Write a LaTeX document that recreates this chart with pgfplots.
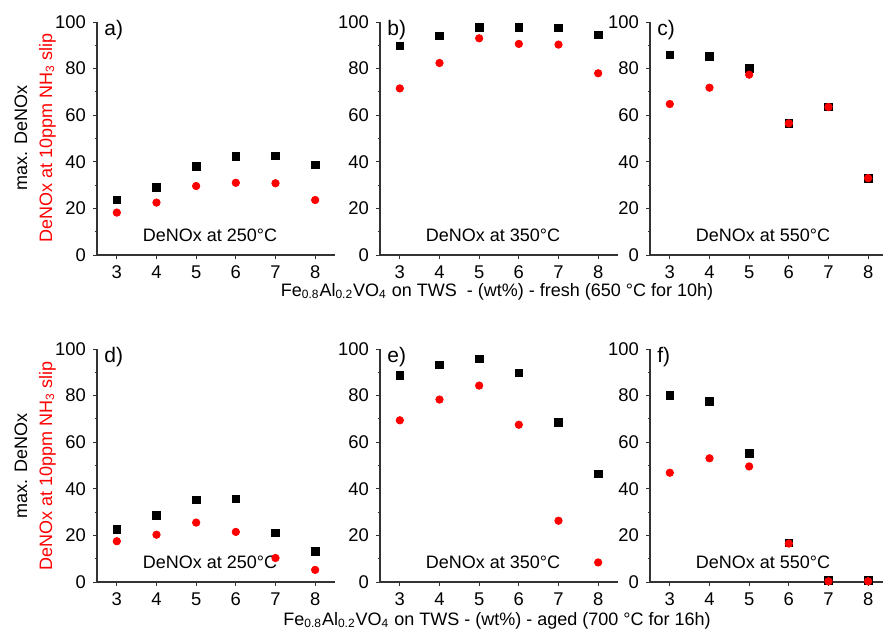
\documentclass[border=0pt]{standalone}
\usepackage{fontspec}
\setmainfont{Liberation Sans}
\usepackage{pgfplots}
\pgfplotsset{compat=1.18}

\pgfplotsset{
  panel/.style={
    scale only axis, width=119pt, height=116.5pt,
    anchor=south west, clip=false,
    xmin=2.5, xmax=8.5, ymin=0, ymax=100,
    axis x line*=bottom, axis y line*=left,
    xtick={3,...,8}, ytick={0,20,...,100}, minor y tick num=1,
    tick align=outside, major tick length=2pt, minor tick length=1.2pt,
    tick style={black!80, line width=0.5pt},
    axis line style={black!80, line width=0.6pt},
    ticklabel style={font=\fontsize{9.2}{10}\selectfont},
    /pgf/number format/assume math mode=true,
  },
  sq/.style={only marks, mark=square*, mark size=1.9pt, black},
  ci/.style={only marks, mark=*, mark size=1.85pt, red},
}
\newcommand{\plab}[1]{\node[anchor=north west, inner sep=0pt, font=\fontsize{10.5}{11}\selectfont]
  at (rel axis cs:0,1) [xshift=3.5pt, yshift=1pt] {#1};}
\newcommand{\tlab}[1]{\node[font=\fontsize{9}{10}\selectfont] at (axis cs:5.35,8.5) {DeNOx at #1°C};}

\begin{document}
\begin{tikzpicture}
\useasboundingbox (0,0) rectangle (441.5pt,317pt);

% ---- fresh ----
\begin{axis}[panel, at={(48.5pt,189.5pt)}]
\addplot[sq] coordinates {(3,23.6) (4,29.0) (5,37.9) (6,42.2) (7,42.5) (8,38.6)};
\addplot[ci] coordinates {(3,18.2) (4,22.5) (5,29.6) (6,31.0) (7,30.8) (8,23.6)};
\plab{a)}
\tlab{250}
\end{axis}

\begin{axis}[panel, at={(190pt,189.5pt)}]
\addplot[sq] coordinates {(3,89.7) (4,94.1) (5,97.7) (6,97.6) (7,97.4) (8,94.4)};
\addplot[ci] coordinates {(3,71.5) (4,82.4) (5,93.0) (6,90.6) (7,90.3) (8,78.0)};
\plab{b)}
\tlab{350}
\end{axis}

\begin{axis}[panel, at={(325pt,189.5pt)}]
\addplot[sq] coordinates {(3,85.8) (4,85.3) (5,80.1) (6,56.5) (7,63.5) (8,33.0)};
\addplot[ci] coordinates {(3,64.8) (4,71.8) (5,77.4) (6,56.5) (7,63.5) (8,33.0)};
\plab{c)}
\tlab{550}
\end{axis}

% ---- aged ----
\begin{axis}[panel, at={(48.5pt,26pt)}]
\addplot[sq] coordinates {(3,22.5) (4,28.5) (5,35.2) (6,35.6) (7,21.0) (8,13.2)};
\addplot[ci] coordinates {(3,17.5) (4,20.3) (5,25.5) (6,21.5) (7,10.3) (8,5.2)};
\plab{d)}
\tlab{250}
\end{axis}

\begin{axis}[panel, at={(190pt,26pt)}]
\addplot[sq] coordinates {(3,88.7) (4,93.1) (5,95.7) (6,89.7) (7,68.4) (8,46.4)};
\addplot[ci] coordinates {(3,69.4) (4,78.3) (5,84.3) (6,67.5) (7,26.3) (8,8.4)};
\plab{e)}
\tlab{350}
\end{axis}

\begin{axis}[panel, at={(325pt,26pt)}]
\addplot[sq] coordinates {(3,80.1) (4,77.4) (5,55.1) (6,16.7) (7,0.7) (8,0.7)};
\addplot[ci] coordinates {(3,46.9) (4,53.1) (5,49.6) (6,16.5) (7,0.3) (8,0.3)};
\plab{f)}
\tlab{550}
\end{axis}

% y labels
\begin{scope}[font=\fontsize{9}{10}\selectfont]
\node[rotate=90, anchor=base] at (13.5pt,248pt) {max. DeNOx};
\node[rotate=90, anchor=base, text=red] at (26pt,248pt) {DeNOx at 10ppm NH\textsubscript{3} slip};
\node[rotate=90, anchor=base] at (13.5pt,84pt) {max. DeNOx};
\node[rotate=90, anchor=base, text=red] at (26pt,84pt) {DeNOx at 10ppm NH\textsubscript{3} slip};
% x labels
\node[anchor=base] at (248.5pt,169pt) {Fe\textsubscript{0.8}Al\textsubscript{0.2}VO\textsubscript{4} on TWS\ \ - (wt\%) - fresh (650 °C for 10h)};
\node[anchor=base] at (248.5pt,4.5pt) {Fe\textsubscript{0.8}Al\textsubscript{0.2}VO\textsubscript{4} on TWS - (wt\%) - aged (700 °C for 16h)};
\end{scope}
\end{tikzpicture}
\end{document}
